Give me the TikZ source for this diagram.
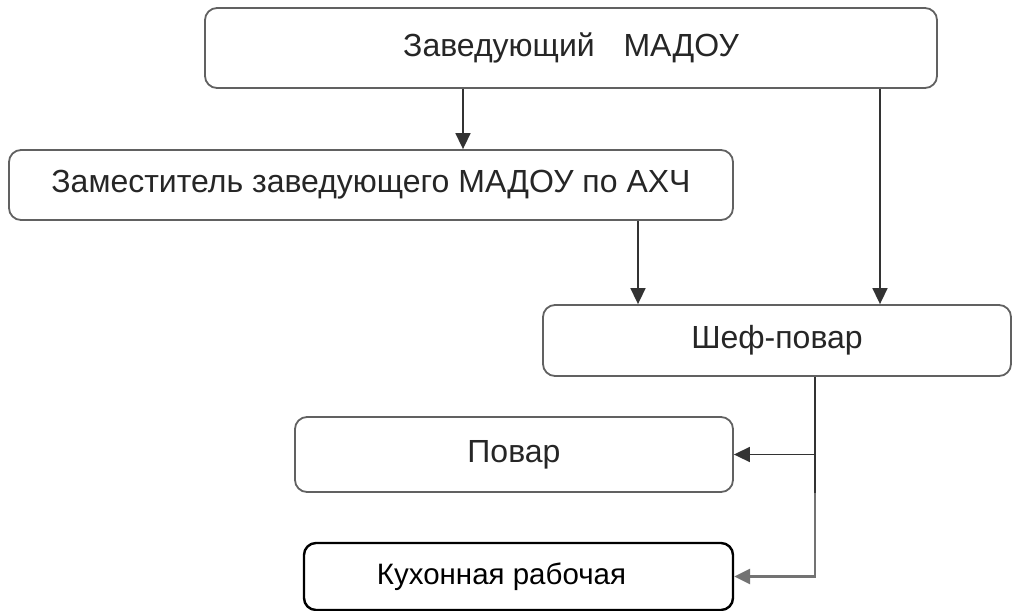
\documentclass[tikz,border=0pt]{standalone}
\usepackage{fontspec}
\setmainfont{Liberation Sans}
\usetikzlibrary{arrows.meta, calc}

\begin{document}
\begin{tikzpicture}[x=1pt,y=-1pt,
    box/.style={draw=black!62, line width=1.8pt, rounded corners=12pt, inner sep=0pt,
      font=\fontsize{32}{38}\selectfont, text=black!85},
    arr/.style={-{Triangle[length=16pt,width=15pt]}, line width=1.6pt, draw=black!80}]
  \useasboundingbox (0,0) rectangle (1013,611);
  \node[box, minimum width=732pt, minimum height=80pt] (zav)   at (571,48)    {Заведующий\hspace{0.9em}МАДОУ};
  \node[box, minimum width=724pt, minimum height=70pt] (zam)   at (371,185)   {Заместитель заведующего МАДОУ по АХЧ};
  \node[box, minimum width=468pt, minimum height=71pt] (shef)  at (777,340.5) {Шеф-повар};
  \node[box, minimum width=438pt, minimum height=75pt] (povar) at (514,454.5) {Повар};
  \node[box, draw=black, line width=2.4pt, text=black, font=\fontsize{29.5}{35}\selectfont,
        minimum width=429pt, minimum height=67pt]      (rab)   at (518.5,576.5) {\hspace*{-34pt}Кухонная рабочая};

  % entry points
  \path (zam.north)  ++(92,0)  coordinate (in_1);
  \path (shef.north) ++(-139,0) coordinate (in_2);
  \path (shef.north) ++(103,0) coordinate (in_3);
  \path (shef.south) ++(38,0)  coordinate (out_1);
  \path (out_1 |- povar.south) coordinate (mid);

  \draw[arr] (zav.south -| in_1) -- (in_1);
  \draw[arr] (zam.south -| in_2) -- (in_2);
  \draw[arr] (zav.south -| in_3) -- (in_3);
  \draw[line width=1.6pt, draw=black!80] (out_1) -- (mid);
  \draw[arr] (out_1 |- povar.east) -- (povar.east);
  \draw[arr, draw=black!55, line width=2.8pt] (mid) -- (mid |- rab.east) -- (rab.east);
\end{tikzpicture}
\end{document}
